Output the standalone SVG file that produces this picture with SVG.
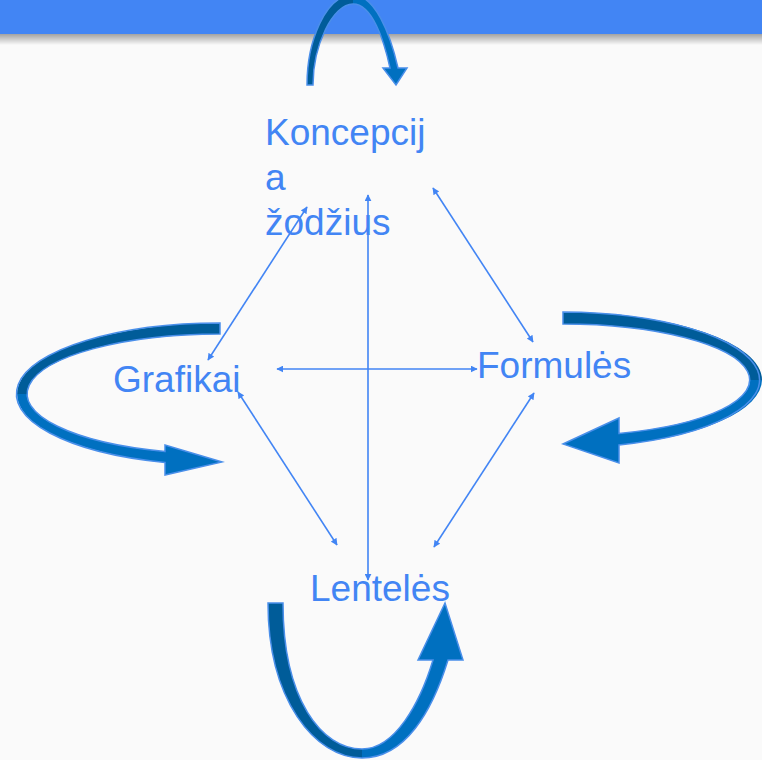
<svg xmlns="http://www.w3.org/2000/svg" width="762" height="760" viewBox="0 0 762 760">
<defs>
<linearGradient id="shadow" x1="0" y1="0" x2="0" y2="1">
<stop offset="0" stop-color="#9a9a9a"/>
<stop offset="1" stop-color="#fafafa"/>
</linearGradient>
<marker id="ah" viewBox="0 0 10 10" refX="9" refY="5" markerWidth="7" markerHeight="7" markerUnits="userSpaceOnUse" orient="auto-start-reverse">
<path d="M0,0 L10,5 L0,10 Z" fill="#4285F4"/>
</marker>
</defs>
<style>
.lbl{font-family:"Liberation Sans",Arial,sans-serif;font-size:37px;fill:#4285F4}
.con{stroke:#4285F4;stroke-width:1.6;fill:none;marker-start:url(#ah);marker-end:url(#ah)}
.dk{fill:#005C99}
.lt{fill:#0070C0}
.ol{fill:none;stroke:#4A8FEA;stroke-width:1.5;stroke-linejoin:miter}
</style>
<rect x="0" y="0" width="762" height="760" fill="#FAFAFA"/>
<rect x="0" y="33" width="762" height="12" fill="url(#shadow)"/>
<rect x="0" y="0" width="762" height="34" fill="#4285F4"/>

<g id="connectors">
<line class="con" x1="307" y1="207" x2="208" y2="360"/>
<line class="con" x1="433" y1="188" x2="533" y2="342"/>
<line class="con" x1="277" y1="369" x2="477" y2="369"/>
<line class="con" x1="368" y1="195" x2="368" y2="580"/>
<line class="con" x1="238" y1="392" x2="337" y2="545"/>
<line class="con" x1="534" y1="393" x2="434" y2="547"/>
</g>

<g id="loop-top">
<path class="dk" d="M307,85 C307,42 325,-5 353,-5 L353,4 C333,4 313,45 313,85 Z"/>
<path class="lt" d="M353,-5 C375,-5 390,33 398,68 L407,68 L396,85 L383,68 L390,68 C384,40 372,4 353,4 Z"/>
<path class="ol" d="M307,85 C307,42 325,-5 353,-5 C375,-5 390,33 398,68 L407,68 L396,85 L383,68 L390,68 C384,40 372,4 353,4 C333,4 313,45 313,85 Z"/>
</g>

<g id="loop-left">
<path class="dk" d="M220,323 A203,71 0 0 0 17,394 L27,394 A193,60 0 0 1 220,334 Z"/>
<path class="lt" d="M17,394 A203,71 0 0 0 165,462.4 L165,475 L222,462 L165,445 L165,451.5 A193,60 0 0 1 27,394 Z"/>
<path class="ol" d="M220,323 A203,71 0 0 0 165,462.4 L165,475 L222,462 L165,445 L165,451.5 A193,60 0 0 1 220,334 Z"/>
</g>

<g id="loop-right">
<path class="dk" d="M563,312 A199,68 0 0 1 762,380 L750,380 A187,56 0 0 0 563,324 Z"/>
<path class="lt" d="M762,380 A199,68 0 0 1 619,445 L619,463 L563,444 L619,418 L619,433.4 A187,56 0 0 0 750,380 Z"/>
<path class="ol" d="M563,312 A199,68 0 0 1 619,445 L619,463 L563,444 L619,418 L619,433.4 A187,56 0 0 0 563,324 Z"/>
</g>

<g id="loop-bottom">
<path class="dk" d="M268,603 C268,700 315,758 362,758 L362,749 C322,749 283,700 283,603 Z"/>
<path class="lt" d="M362,758 C405,758 432,712 448,660 L463,660 L445,603 L418,660 L433,660 C420,703 395,749 362,749 Z"/>
<path class="ol" d="M268,603 C268,700 315,758 362,758 C405,758 432,712 448,660 L463,660 L445,603 L418,660 L433,660 C420,703 395,749 362,749 C322,749 283,700 283,603 Z"/>
</g>

<g id="node-koncepcija">
<text class="lbl" x="265" y="145">Koncepcij</text>
<text class="lbl" x="265" y="190">a</text>
<text class="lbl" x="265" y="235">žodžius</text>
</g>
<g id="node-grafikai">
<text class="lbl" x="113" y="392">Grafikai</text>
</g>
<g id="node-formules">
<text class="lbl" x="477" y="378">Formulės</text>
</g>
<g id="node-lenteles">
<text class="lbl" x="310" y="601">Lentelės</text>
</g>
</svg>
